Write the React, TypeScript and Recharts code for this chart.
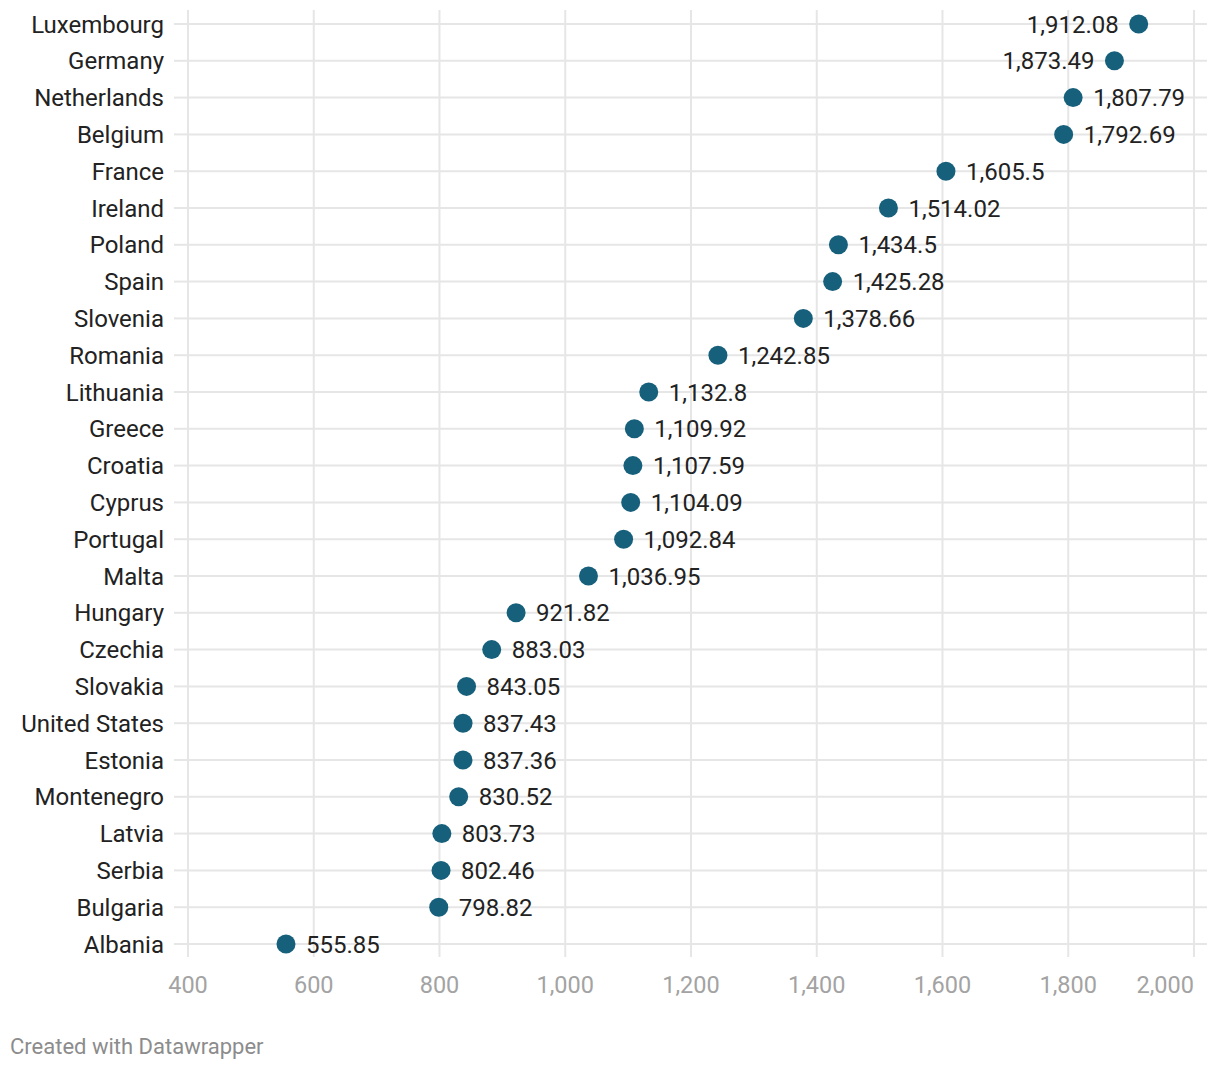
import { LineChart, Line, XAxis, YAxis, CartesianGrid, LabelList } from "recharts";

const countries = [
  "Luxembourg", "Germany", "Netherlands", "Belgium", "France", "Ireland", "Poland",
  "Spain", "Slovenia", "Romania", "Lithuania", "Greece", "Croatia", "Cyprus",
  "Portugal", "Malta", "Hungary", "Czechia", "Slovakia", "United States", "Estonia",
  "Montenegro", "Latvia", "Serbia", "Bulgaria", "Albania",
];

const values = [
  1912.08, 1873.49, 1807.79, 1792.69, 1605.5, 1514.02, 1434.5,
  1425.28, 1378.66, 1242.85, 1132.8, 1109.92, 1107.59, 1104.09,
  1092.84, 1036.95, 921.82, 883.03, 843.05, 837.43, 837.36,
  830.52, 803.73, 802.46, 798.82, 555.85,
];

const xTicks = [400, 600, 800, 1000, 1200, 1400, 1600, 1800, 2000];

const data = countries.map((country, i) => ({ country, value: values[i] }));

const DOT = "#17607c";
const GRID = "#e6e6e6";
const fmt = (v: number) => v.toLocaleString("en-US", { maximumFractionDigits: 2 });

const Dot = (props: any) => {
  const { cx, cy } = props;
  if (cx == null || cy == null) return null;
  return <circle cx={cx} cy={cy} r={9.5} fill={DOT} />;
};

// labels go left of the dot when they would run off the right edge
const ValueLabel = (props: any) => {
  const { x, y, value } = props;
  const left = value > 1850;
  return (
    <text
      x={left ? x - 20 : x + 20}
      y={y}
      dy="0.355em"
      textAnchor={left ? "end" : "start"}
      fontSize={24}
      fill="#222"
    >
      {fmt(value)}
    </text>
  );
};

const XTick = (props: any) => {
  const { x, y, payload } = props;
  const last = payload.value === xTicks[xTicks.length - 1];
  return (
    <text x={x} y={y} dy="0.71em" textAnchor={last ? "end" : "middle"} fontSize={23.5} fill="#a3a3a3">
      {fmt(payload.value)}
    </text>
  );
};

export default function App() {
  return (
    <div
      style={{
        position: "absolute",
        left: 0,
        top: 0,
        width: 1220,
        height: 1072,
        background: "#fff",
        fontFamily: "Roboto",
      }}
    >
      <LineChart
        layout="vertical"
        width={1220}
        height={1072}
        data={data}
        margin={{ top: 10, right: 13, left: 0, bottom: 0 }}
      >
        <CartesianGrid stroke={GRID} strokeWidth={2} syncWithTicks />
        <XAxis
          type="number"
          dataKey="value"
          domain={[400, 2020.7]}
          ticks={xTicks}
          allowDataOverflow
          axisLine={false}
          tickLine={false}
          tickSize={0}
          tickMargin={19}
          height={115}
          tick={<XTick />}
          interval={0}
        />
        <YAxis
          type="category"
          dataKey="country"
          scale="point"
          width={188}
          axisLine={false}
          tickLine={{ stroke: GRID, strokeWidth: 2 }}
          tickSize={14}
          tickMargin={10}
          padding={{ top: 14, bottom: 13 }}
          interval={0}
          tick={{ fontSize: 24, fill: "#222" }}
        />
        <Line
          dataKey="value"
          stroke="none"
          dot={<Dot />}
          activeDot={false}
          isAnimationActive={false}
        >
          <LabelList dataKey="value" content={<ValueLabel />} />
        </Line>
      </LineChart>
      <div
        style={{
          position: "absolute",
          left: 10,
          top: 1033,
          fontSize: 22,
          color: "#8c8c8c",
          lineHeight: "28px",
        }}
      >
        Created with Datawrapper
      </div>
    </div>
  );
}
